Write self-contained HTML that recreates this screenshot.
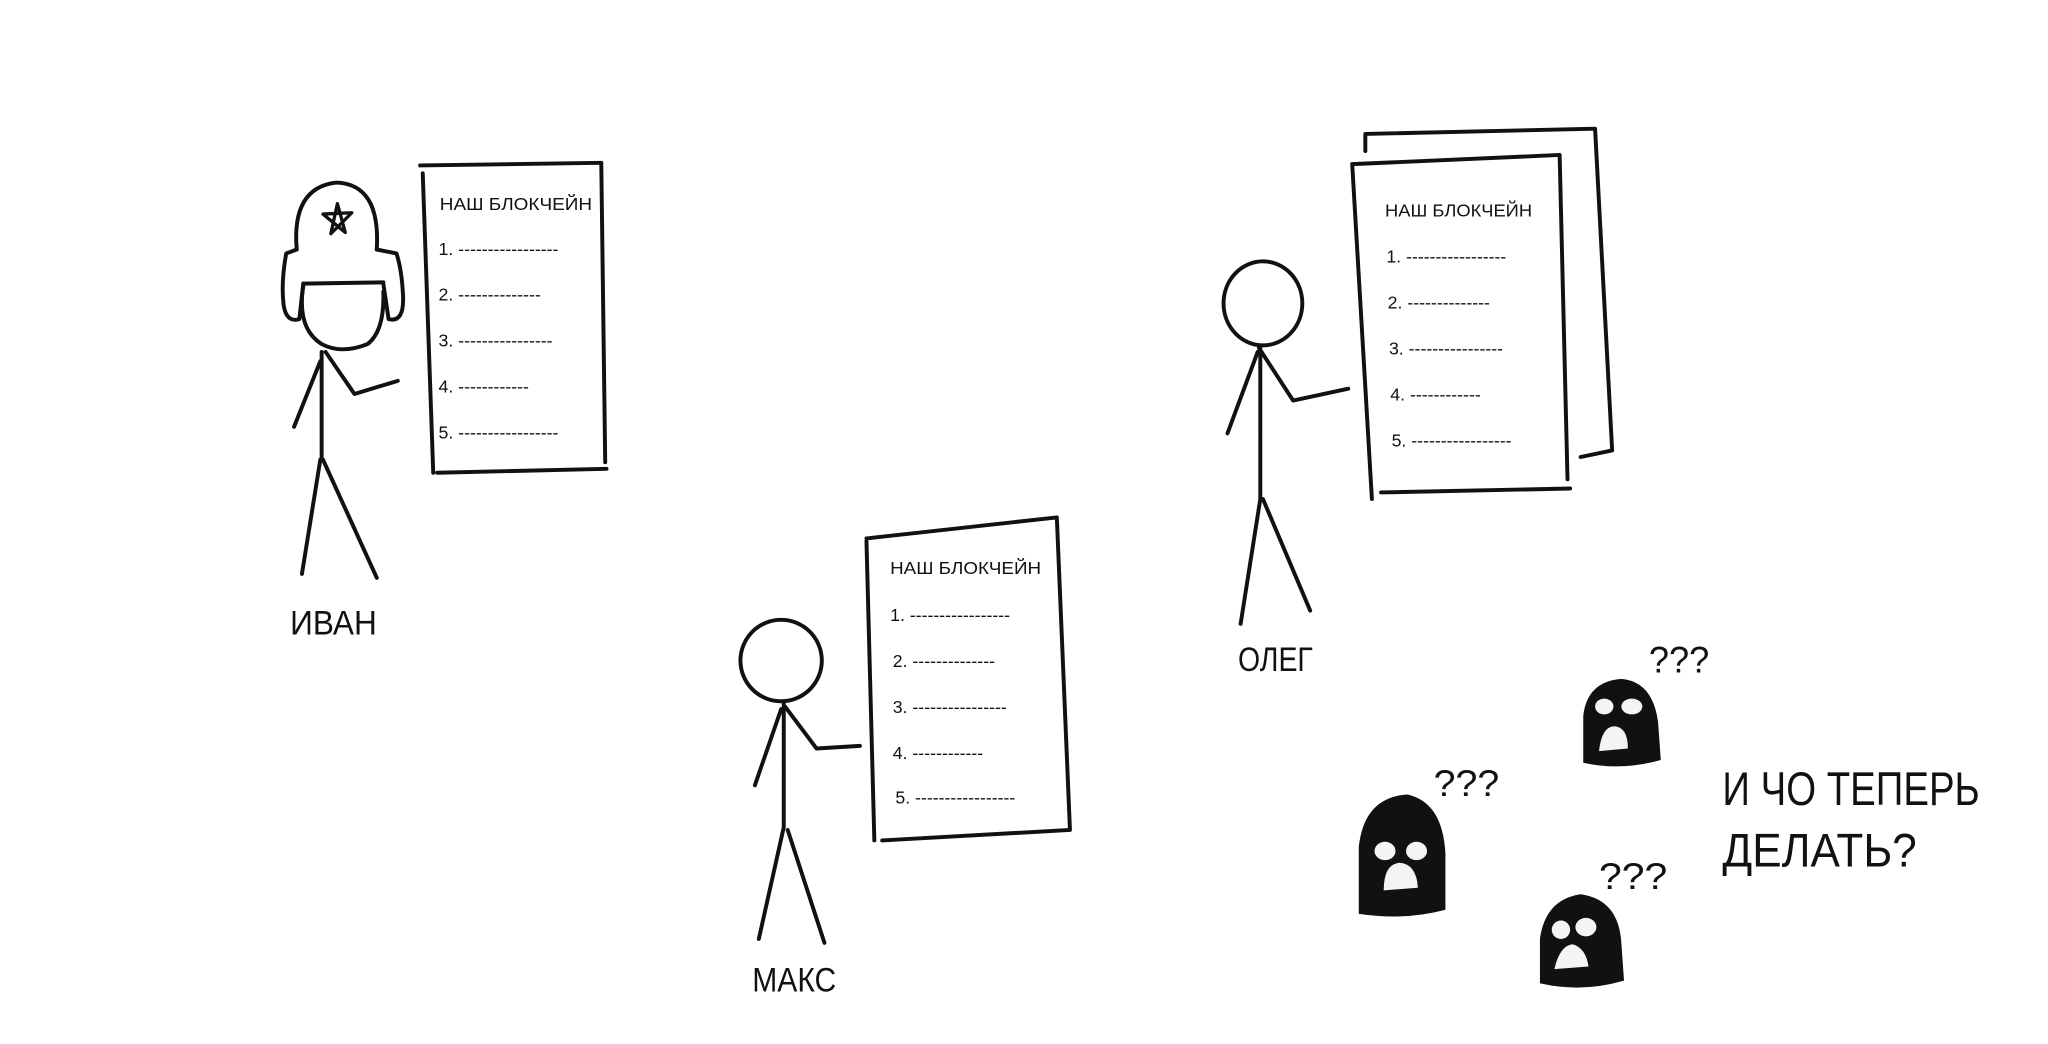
<!DOCTYPE html>
<html><head><meta charset="utf-8"><style>
html,body{margin:0;padding:0;background:#fff;}
svg{display:block;}
text{font-family:"Liberation Sans","DejaVu Sans",sans-serif;fill:#111;}
</style></head><body>
<svg width="2048" height="1044" viewBox="0 0 1560 795" preserveAspectRatio="none" xmlns="http://www.w3.org/2000/svg">
<g fill="none" stroke="#111" stroke-width="3" stroke-linecap="round" stroke-linejoin="round">
<!-- IVAN -->
<path d="M231,218 Q226,250 245,262 Q260,270 280,262 Q293,252 292,222"/>
<path d="M231,216 L292,215"/>
<path d="M226,190 Q222,143 256,139 Q290,140 287,190"/>
<path d="M226,190 L218,193 Q214,215 216,232 Q218,246 228,243 L231,216"/>
<path d="M287,190 L302,193 Q306,205 307,225 Q308,246 296,243 L292,216"/>
<path d="M252,178 L257,155 L263,177 L246,163 L268,162 Z" stroke-width="2.5"/>
<path d="M245,268 L245,350 M244,275 L224,325 M248,268 L270,300 L303,290 M244,350 L230,437 M246,350 L287,440"/>
<path d="M320,126 L458,124 L461,352 M333,360 L462,357 M322,132 L330,360"/>
<!-- MAKS -->
<circle cx="595" cy="503" r="31"/>
<path d="M597,535 L597,630 M595,540 L575,598 M598,538 L622,570 L655,568 M597,630 L578,715 M600,632 L628,718"/>
<path d="M660,410 L805,394 L815,632 M672,640 L815,632 M660,412 L666,640"/>
<!-- OLEG -->
<ellipse cx="962" cy="231" rx="30" ry="32"/>
<path d="M960,263 L960,380 M958,268 L935,330 M959,265 L985,305 L1027,296 M960,380 L945,475 M962,380 L998,465"/>
<path d="M1040,115 L1040,102 L1215,98 L1228,343 L1204,348"/>
<path d="M1030,125 L1188,118 L1194,365 M1052,375 L1196,372 M1030,125 L1045,380"/>
</g>
<g font-size="13.5">
<text x="335" y="160" textLength="116" lengthAdjust="spacingAndGlyphs">НАШ БЛОКЧЕЙН</text>
<text x="334" y="194">1. -----------------</text>
<text x="334" y="229">2. --------------</text>
<text x="334" y="264">3. ----------------</text>
<text x="334" y="299">4. ------------</text>
<text x="334" y="334">5. -----------------</text>
<text x="678" y="437" textLength="115" lengthAdjust="spacingAndGlyphs">НАШ БЛОКЧЕЙН</text>
<text x="678" y="473">1. -----------------</text>
<text x="680" y="508">2. --------------</text>
<text x="680" y="543">3. ----------------</text>
<text x="680" y="578">4. ------------</text>
<text x="682" y="612">5. -----------------</text>
<text x="1055" y="165" textLength="112" lengthAdjust="spacingAndGlyphs">НАШ БЛОКЧЕЙН</text>
<text x="1056" y="200">1. -----------------</text>
<text x="1057" y="235">2. --------------</text>
<text x="1058" y="270">3. ----------------</text>
<text x="1059" y="305">4. ------------</text>
<text x="1060" y="340">5. -----------------</text>
</g>
<g font-size="26">
<text x="221" y="483" textLength="66" lengthAdjust="spacingAndGlyphs">ИВАН</text>
<text x="573" y="755" textLength="64" lengthAdjust="spacingAndGlyphs">МАКС</text>
<text x="943" y="511" textLength="57" lengthAdjust="spacingAndGlyphs">ОЛЕГ</text>
</g>
<g font-size="36">
<text x="1312" y="613" textLength="196" lengthAdjust="spacingAndGlyphs">И ЧО ТЕПЕРЬ</text>
<text x="1312" y="660" textLength="148" lengthAdjust="spacingAndGlyphs">ДЕЛАТЬ?</text>
</g>
<g font-size="28">
<text x="1092" y="606" textLength="50" lengthAdjust="spacingAndGlyphs">???</text>
<text x="1256" y="512" textLength="46" lengthAdjust="spacingAndGlyphs">???</text>
<text x="1218" y="677" textLength="52" lengthAdjust="spacingAndGlyphs">???</text>
</g>
<!-- masks -->
<g fill="#111" stroke="#111" stroke-width="2">
<path d="M1036,695 L1036,645 Q1040,608 1072,606 Q1098,612 1100,650 L1100,692 Q1070,700 1036,695 Z"/>
<path d="M1207,580 L1207,545 Q1210,520 1235,518 Q1258,520 1262,550 L1264,578 Q1235,586 1207,580 Z"/>
<path d="M1174,748 L1174,715 Q1178,686 1204,682 Q1232,686 1234,718 L1236,746 Q1205,755 1174,748 Z"/>
</g>
<g fill="#f4f4f4">
<ellipse cx="1055" cy="648" rx="8" ry="7"/><ellipse cx="1079" cy="648" rx="8" ry="7"/>
<path d="M1054,678 Q1054,658 1066,657 Q1079,658 1080,676 Z"/>
<ellipse cx="1222" cy="538" rx="7" ry="6"/><ellipse cx="1243" cy="538" rx="8" ry="6"/>
<path d="M1218,572 Q1220,553 1230,553 Q1240,554 1240,570 Z"/>
<ellipse cx="1189" cy="708" rx="7" ry="7"/><ellipse cx="1208" cy="706" rx="8" ry="7"/>
<path d="M1184,738 Q1188,720 1198,719 Q1208,722 1210,736 Z"/>
</g>
</svg>
</body></html>
